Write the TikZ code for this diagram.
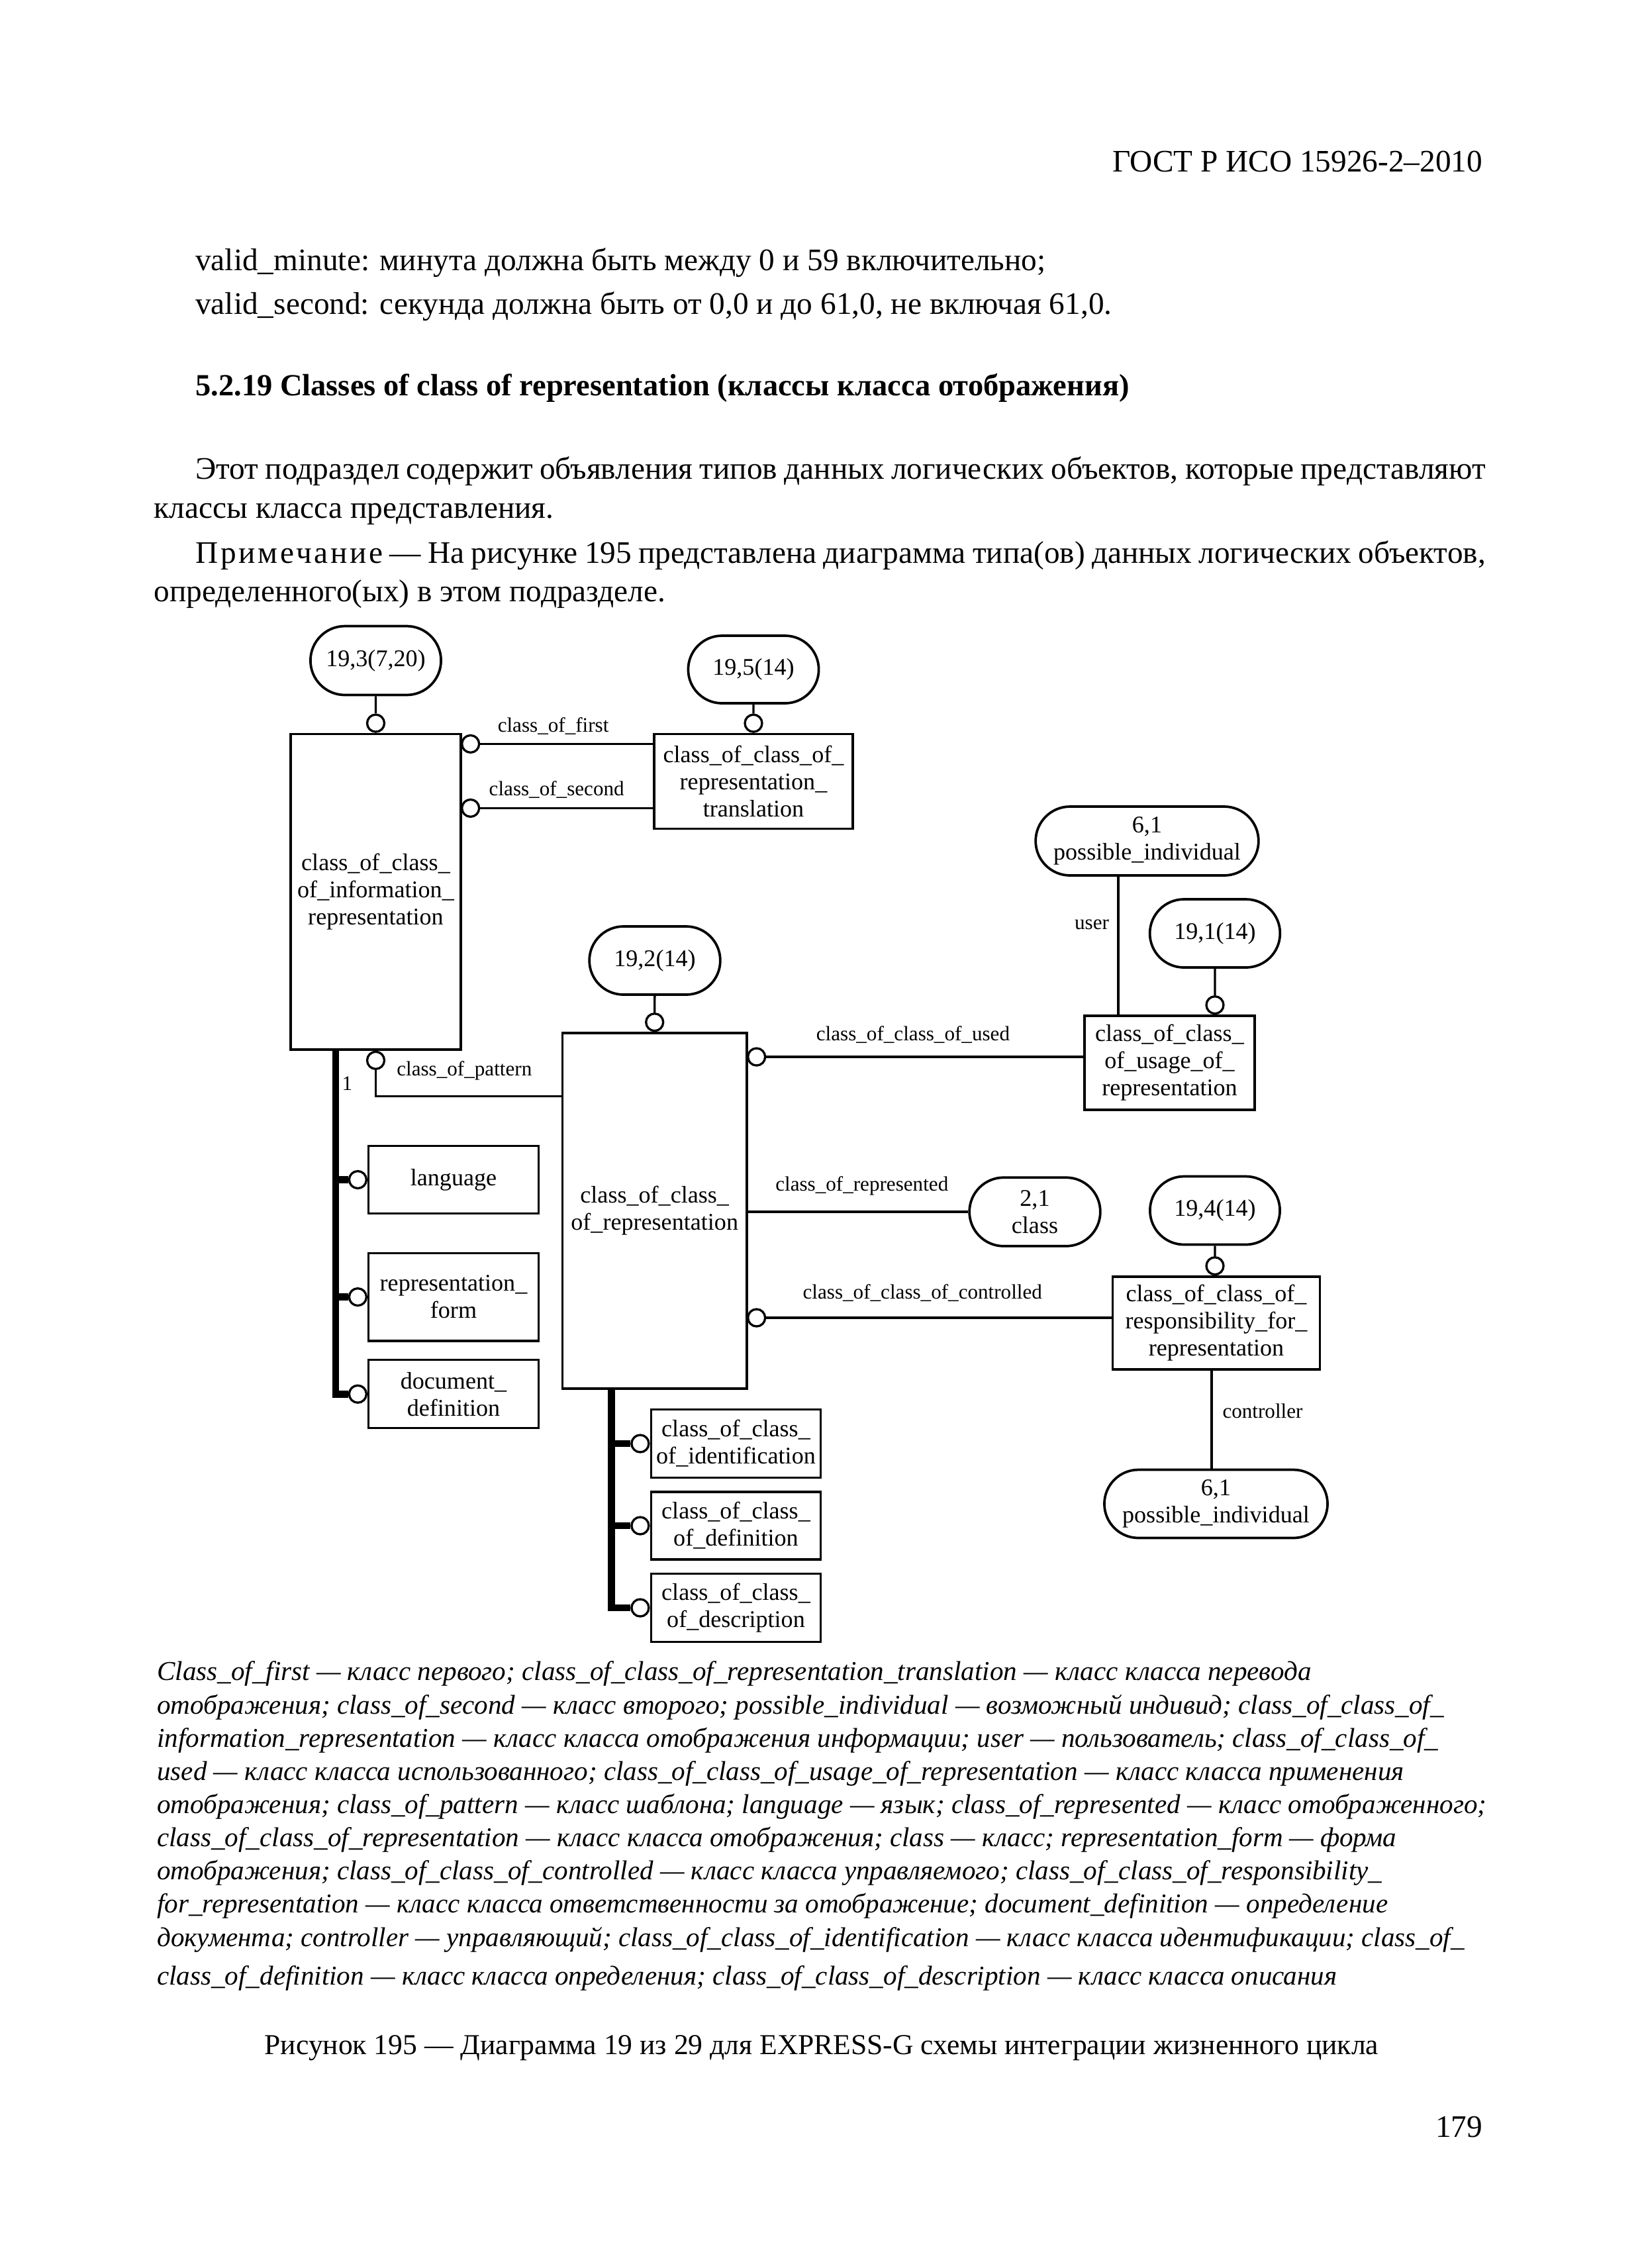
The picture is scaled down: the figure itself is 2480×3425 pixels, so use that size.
\documentclass[tikz,border=0pt]{standalone}
\usepackage{fontspec}
\setmainfont{Liberation Serif}
\usetikzlibrary{shapes.misc, positioning, backgrounds}

\newlength\opx
\setlength\opx{0.0084677cm}

\begin{document}
\begin{tikzpicture}[x=0.0084677cm, y=-0.0084677cm,
    entity/.style={rectangle, draw, line width=0.8pt, align=center, inner sep=1pt,
                   font=\fontsize{8.7}{9.9}\selectfont},
    typeref/.style={rounded rectangle, draw, line width=0.9pt, align=center, inner sep=1pt,
                    font=\fontsize{8.7}{9.9}\selectfont},
    ring/.style={circle, draw, line width=0.8pt, fill=white, minimum size=26\opx, inner sep=0pt},
    rel/.style={line width=0.8pt},
    trunk/.style={line width=2.6pt},
    attr/.style={font=\fontsize{7.5}{8.5}\selectfont, inner sep=0pt},
    bodytext/.style={font=\fontsize{11.4}{13.7}\selectfont, anchor=west, inner sep=0pt,
                     text height=8pt, text depth=2.5pt},
    headtext/.style={bodytext, font=\fontsize{11.2}{13.5}\selectfont\bfseries},
    captext/.style={font=\fontsize{9.9}{11.5}\selectfont\itshape, anchor=west, inner sep=0pt,
                    text height=7pt, text depth=2.2pt}]
    \useasboundingbox (0,0) rectangle (2480,3425);

    % Page text
    \node[bodytext, anchor=east] (header) at (2240,248) {ГОСТ Р ИСО 15926-2–2010};
    \node[bodytext] (minute) at (294.5,397) {valid\_minute: минута должна быть между 0 и 59 включительно;};
    \node[bodytext] (second) at (294.5,463.5) {valid\_second: секунда должна быть от 0,0 и до 61,0, не включая 61,0.};
    \node[headtext] (heading) at (294.5,586.5) {5.2.19 Classes of class of representation (классы класса отображения)};
    \node[bodytext] (para1) at (294.5,712) {\makebox[16.5cm][s]{Этот подраздел содержит объявления типов данных логических объектов, которые представляют}};
    \node[bodytext] (para2) at (232,770.7) {классы класса представления.};
    \node[bodytext] (note1) at (294.5,839) {\makebox[16.5cm][s]{{\addfontfeature{LetterSpace=8}Примечание} — На рисунке 195 представлена диаграмма типа(ов) данных логических объектов,}};
    \node[bodytext] (note2) at (232,896.7) {определенного(ых) в этом подразделе.};

    % Type references
    \node[typeref, minimum width=205.5\opx, minimum height=104\opx] (r193) at (567.5,997.5) {19,3(7,20)};
    \node[typeref, minimum width=205.5\opx, minimum height=102\opx] (r195) at (1138,1011) {19,5(14)};
    \node[typeref, minimum width=345\opx, minimum height=104\opx] (pi1) at (1732.5,1270) {6,1\\possible\_individual};
    \node[typeref, minimum width=205\opx, minimum height=103\opx] (r191) at (1835,1409.5) {19,1(14)};
    \node[typeref, minimum width=206\opx, minimum height=103\opx] (r192) at (989,1450.5) {19,2(14)};
    \node[typeref, minimum width=206\opx, minimum height=103.6\opx] (cls) at (1563,1830) {2,1\\class};
    \node[typeref, minimum width=204.5\opx, minimum height=103\opx] (r194) at (1835,1828) {19,4(14)};
    \node[typeref, minimum width=345.4\opx, minimum height=103\opx] (pi2) at (1836.5,2271) {6,1\\possible\_individual};

    % Entities
    \node[entity, minimum width=257\opx, minimum height=476.5\opx] (cocir) at (567.5,1346.7)
        {class\_of\_class\_\\of\_information\_\\representation};
    \node[entity, minimum width=300\opx, minimum height=143\opx] (cocrt) at (1138,1180)
        {class\_of\_class\_of\_\\representation\_\\translation};
    \node[entity, minimum width=278.5\opx, minimum height=537\opx] (cocr) at (988.7,1828.5)
        {class\_of\_class\_\\of\_representation};
    \node[entity, minimum width=257\opx, minimum height=142\opx] (usage) at (1766.5,1605)
        {class\_of\_class\_\\of\_usage\_of\_\\representation};
    \node[entity, minimum width=313\opx, minimum height=140\opx] (resp) at (1837,1998)
        {class\_of\_class\_of\_\\responsibility\_for\_\\representation};
    \node[entity, minimum width=256.6\opx, minimum height=102\opx] (lang) at (685,1781.5) {language};
    \node[entity, minimum width=256.6\opx, minimum height=132.6\opx] (form) at (685,1958.6) {representation\_\\form};
    \node[entity, minimum width=256.6\opx, minimum height=103\opx] (docdef) at (685,2105.2) {document\_\\definition};
    \node[entity, minimum width=256.5\opx, minimum height=103.3\opx] (ident) at (1111.5,2180) {class\_of\_class\_\\of\_identification};
    \node[entity, minimum width=256.5\opx, minimum height=102\opx] (defn) at (1111.5,2304) {class\_of\_class\_\\of\_definition};
    \node[entity, minimum width=256.5\opx, minimum height=103\opx] (descr) at (1111.5,2428) {class\_of\_class\_\\of\_description};

    % Rings
    \node[ring, anchor=south] (c193) at (cocir.north) {};
    \node[ring, anchor=south] (c195) at (cocrt.north) {};
    \node[ring, anchor=south] (c192) at (cocr.north) {};
    \node[ring, anchor=south] (c191) at (usage.north -| r191) {};
    \node[ring, anchor=south] (c194) at (resp.north -| r194) {};
    \node[ring, anchor=west] (cfirst) at (696,1123.4) {};
    \node[ring, anchor=west] (csecond) at (696,1220.4) {};
    \node[ring, anchor=west] (cused) at (1128,1596) {};
    \node[ring, anchor=west] (cctrl) at (1128,1990) {};
    \node[ring, anchor=north] (cpattern) at (cocir.south) {};
    \node[ring, anchor=east] (clang) at (lang.west) {};
    \node[ring, anchor=east] (cform) at (form.west) {};
    \node[ring, anchor=east] (cdoc) at (docdef.west) {};
    \node[ring, anchor=east] (cident) at (ident.west) {};
    \node[ring, anchor=east] (cdefn) at (defn.west) {};
    \node[ring, anchor=east] (cdescr) at (descr.west) {};

    \coordinate (userx) at (1689,1400);
    \coordinate (pattx) at (700,1655.5);
    \coordinate (ctrlx) at (1830,2150);
    \coordinate (t1) at (507,2105);
    \coordinate (t2) at (923.5,2428);

    % Connectors
    \begin{scope}[on background layer]
    \draw[rel] (r193) -- (c193);
    \draw[rel] (r195) -- (c195);
    \draw[rel] (r192) -- (c192);
    \draw[rel] (r191) -- (c191);
    \draw[rel] (r194) -- (c194);
    \draw[rel] (cfirst) -- (cfirst -| cocrt.west);
    \draw[rel] (csecond) -- (csecond -| cocrt.west);
    \draw[rel] (cused) -- (cused -| usage.west);
    \draw[rel] (cctrl) -- (cctrl -| resp.west);
    \draw[rel] (pi1.south -| userx) -- (usage.north -| userx);
    \draw[rel] (cpattern) |- (cocr.west |- pattx);
    \draw[rel] (cocr.east |- cls) -- (cls);
    \draw[rel] (resp.south -| ctrlx) -- (pi2.north -| ctrlx);
    \draw[trunk] (cocir.south -| t1) |- (cdoc);
    \draw[trunk] (t1 |- clang) -- (clang);
    \draw[trunk] (t1 |- cform) -- (cform);
    \draw[trunk] (cocr.south -| t2) |- (cdescr);
    \draw[trunk] (t2 |- cident) -- (cident);
    \draw[trunk] (t2 |- cdefn) -- (cdefn);
    \end{scope}

    % Labels
    \node[attr] (lfirst) at (835.6,1096.5) {class\_of\_first};
    \node[attr] (lsecond) at (840.7,1192.9) {class\_of\_second};
    \node[attr] (lpattern) at (701.3,1617) {class\_of\_pattern};
    \node[attr] (lone) at (524.5,1636) {1};
    \node[attr] (lused) at (1379,1562.5) {class\_of\_class\_of\_used};
    \node[attr] (luser) at (1649,1396) {user};
    \node[attr] (lrepd) at (1301.8,1791) {class\_of\_represented};
    \node[attr] (lctrld) at (1393.3,1952.7) {class\_of\_class\_of\_controlled};
    \node[attr] (lctrl) at (1907,2131) {controller};

    % Caption
    \node[captext] (cap1) at (236.4,2527.3) {Class\_of\_first — класс первого; class\_of\_class\_of\_representation\_translation — класс класса перевода};
    \node[captext] (cap2) at (236.4,2578.8) {отображения; class\_of\_second — класс второго; possible\_individual — возможный индивид; class\_of\_class\_of\_};
    \node[captext] (cap3) at (236.4,2628.4) {information\_representation — класс класса отображения информации; user — пользователь; class\_of\_class\_of\_};
    \node[captext] (cap4) at (236.4,2678.1) {used — класс класса использованного; class\_of\_class\_of\_usage\_of\_representation — класс класса применения};
    \node[captext] (cap5) at (236.4,2728.4) {отображения; class\_of\_pattern — класс шаблона; language — язык; class\_of\_represented — класс отображенного;};
    \node[captext] (cap6) at (236.4,2778.1) {class\_of\_class\_of\_representation — класс класса отображения; class — класс; representation\_form — форма};
    \node[captext] (cap7) at (236.4,2828.4) {отображения; class\_of\_class\_of\_controlled — класс класса управляемого; class\_of\_class\_of\_responsibility\_};
    \node[captext] (cap8) at (236.4,2878.1) {for\_representation — класс класса ответственности за отображение; document\_definition — определение};
    \node[captext] (cap9) at (236.4,2929.6) {документа; controller — управляющий; class\_of\_class\_of\_identification — класс класса идентификации; class\_of\_};
    \node[captext] (cap10) at (236.4,2987.7) {class\_of\_definition — класс класса определения; class\_of\_class\_of\_description — класс класса описания};

    \node[bodytext, anchor=center, font=\fontsize{10.5}{12.5}\selectfont] (figtitle) at (1241,3090.7) {Рисунок 195 — Диаграмма 19 из 29 для EXPRESS-G схемы интеграции жизненного цикла};
    \node[bodytext, anchor=east] (pageno) at (2240,3216) {179};
\end{tikzpicture}
\end{document}
